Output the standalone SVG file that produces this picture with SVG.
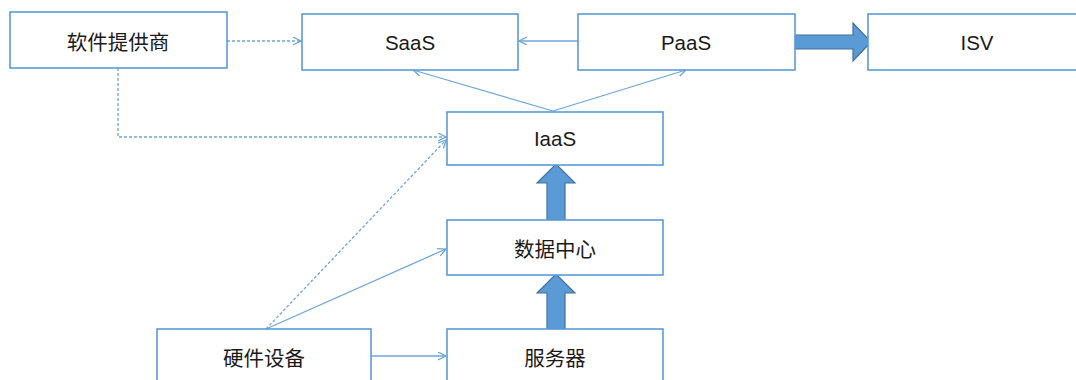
<svg xmlns="http://www.w3.org/2000/svg" width="1076" height="380" viewBox="0 0 1076 380">
<defs>
<style>
.box{fill:#ffffff;stroke:#5b9bd5;stroke-width:1.6}
.lbl{font-family:"Liberation Sans","Noto Sans CJK SC",sans-serif;font-size:20.5px;fill:#1a1a1a;text-anchor:middle;dominant-baseline:central}
.ln{fill:none;stroke:#6fa5da;stroke-width:1.3}
.dash{stroke-dasharray:3 2}
.blk{fill:#5b9bd5;stroke:#41719c;stroke-width:1.2}
</style>
<marker id="ah" markerUnits="userSpaceOnUse" markerWidth="10" markerHeight="10" refX="8" refY="4" orient="auto">
<path d="M0,0 L8,4 L0,8" fill="none" stroke="#6fa5da" stroke-width="1.3"/>
</marker>
</defs>
<rect width="1076" height="380" fill="#ffffff"/>
<g id="connectors">
<path class="ln dash" d="M227,41 H301" marker-end="url(#ah)"/>
<path class="ln dash" d="M118,68 V137 H446" marker-end="url(#ah)"/>
<path class="ln dash" d="M266,329 L446,140" marker-end="url(#ah)"/>
<path class="ln" d="M266,329 L446,249" marker-end="url(#ah)"/>
<path class="ln" d="M371,356 H446" marker-end="url(#ah)"/>
<path class="ln" d="M578,41 H519" marker-end="url(#ah)"/>
<path class="ln" d="M553,111 L413,70" marker-end="url(#ah)"/>
<path class="ln" d="M553,111 L686,70" marker-end="url(#ah)"/>
<polygon class="blk" points="795,35 853,35 853,23 871,42 853,61 853,49 795,49"/>
<polygon class="blk" points="547,220 565,220 565,183 575,183 556,164 537,183 547,183"/>
<polygon class="blk" points="547,329 565,329 565,293 575,293 556,274 537,293 547,293"/>
</g>
<g id="n-software">
<rect class="box" x="10" y="12" width="217" height="56"/>
<text class="lbl" x="118" y="42">软件提供商</text>
</g>
<g id="n-saas">
<rect class="box" x="302" y="14" width="216" height="56"/>
<text class="lbl" x="410" y="42">SaaS</text>
</g>
<g id="n-paas">
<rect class="box" x="578" y="14" width="217" height="56"/>
<text class="lbl" x="686" y="42">PaaS</text>
</g>
<g id="n-isv">
<rect class="box" x="868" y="14" width="218" height="56"/>
<text class="lbl" x="977" y="42">ISV</text>
</g>
<g id="n-iaas">
<rect class="box" x="447" y="112" width="216" height="53"/>
<text class="lbl" x="555" y="138">IaaS</text>
</g>
<g id="n-datacenter">
<rect class="box" x="447" y="220" width="216" height="55"/>
<text class="lbl" x="555" y="249">数据中心</text>
</g>
<g id="n-hardware">
<rect class="box" x="157" y="329" width="214" height="56"/>
<text class="lbl" x="264" y="358">硬件设备</text>
</g>
<g id="n-server">
<rect class="box" x="447" y="329" width="216" height="56"/>
<text class="lbl" x="555" y="358">服务器</text>
</g>
</svg>
